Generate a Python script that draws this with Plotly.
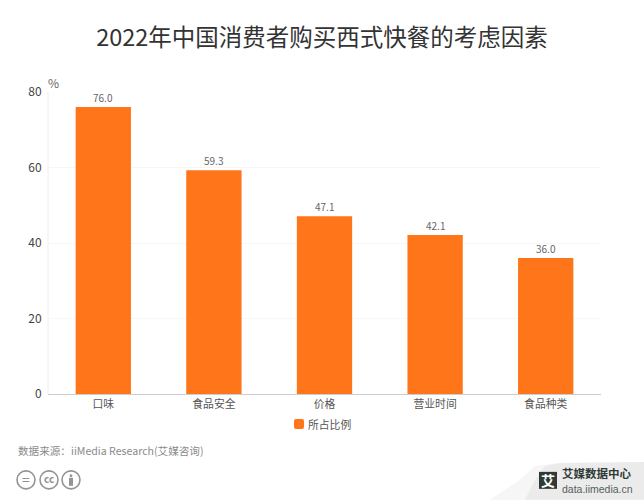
import plotly.graph_objects as go

categories = ["口味", "食品安全", "价格", "营业时间", "食品种类"]
values = [76.0, 59.3, 47.1, 42.1, 36.0]
y_ticks = [0, 20, 40, 60, 80]
series_name = "所占比例"
title = "2022年中国消费者购买西式快餐的考虑因素"
source = "数据来源：iiMedia Research(艾媒咨询)"

W, H = 644, 500
L, R, T, B = 48, 43, 91.5, 106
PW, PH = W - L - R, H - T - B
FONT = "Noto Sans CJK SC, Noto Sans, sans-serif"


def px(x):
    return (x - L) / PW


def py(y):
    return 1 - (y - T) / PH


def label(text, x, y, size, color, anchor="center", family=FONT):
    return dict(text=text, x=px(x), y=py(y), xref="paper", yref="paper", showarrow=False,
                xanchor=anchor, yanchor="middle", font=dict(size=size, color=color, family=family))


fig = go.Figure(
    go.Bar(
        x=categories,
        y=values,
        name=series_name,
        marker=dict(color="#FF751A", line=dict(width=0)),
        showlegend=False,
    )
)

annotations = [
    dict(text=f"{v:.1f}", x=c, y=v, xref="x", yref="y", showarrow=False, xanchor="center", yanchor="bottom",
         font=dict(size=10, color="#666666", family=FONT))
    for c, v in zip(categories, values)
] + [
    label("%", 53, 81.5, 12, "#666666"),
    label(source, 16, 451, 10.6, "#8a8a8a", anchor="left"),
    label("=", 26, 479.5, 14, "#8f8f8f"),
    label("<b>cc</b>", 49, 479, 10, "#8f8f8f"),
    label("<b>艾</b>", 548, 480, 14, "#ffffff"),
    label("<b>艾媒数据中心</b>", 560, 473.5, 11.5, "#2f3a36", anchor="left"),
    label("data.iimedia.cn", 560, 489, 10.5, "#55605c", anchor="left", family="Liberation Sans"),
    label(series_name, 329, 424, 10.8, "#555555"),
]


def circle(cx, cy, r=9):
    return dict(type="circle", xref="paper", yref="paper",
                x0=px(cx - r), x1=px(cx + r), y0=py(cy + r), y1=py(cy - r),
                line=dict(color="#949494", width=1.6), fillcolor="rgba(0,0,0,0)")


def poly(pts, color, layer="below"):
    path = "M " + " L ".join(f"{px(a)},{py(b)}" for a, b in pts) + " Z"
    return dict(type="path", xref="paper", yref="paper", path=path, fillcolor=color, line=dict(width=0), layer=layer)


def rounded_rect(x0, y0, x1, y1, r, color):
    a0, b0, a1, b1 = px(x0), py(y0), px(x1), py(y1)
    rx, ry = r / PW, r / PH
    path = (f"M {a0+rx},{b0} L {a1-rx},{b0} Q {a1},{b0} {a1},{b0-ry} L {a1},{b1+ry} Q {a1},{b1} {a1-rx},{b1} "
            f"L {a0+rx},{b1} Q {a0},{b1} {a0},{b1+ry} L {a0},{b0-ry} Q {a0},{b0} {a0+rx},{b0} Z")
    return dict(type="path", xref="paper", yref="paper", path=path, fillcolor=color, line=dict(width=0))


shapes = [
    circle(26, 480), circle(49, 480), circle(71, 480),
    dict(type="circle", xref="paper", yref="paper", x0=px(69.5), x1=px(72.5), y0=py(477.5), y1=py(474.5),
         fillcolor="#949494", line=dict(width=0)),
    dict(type="rect", xref="paper", yref="paper", x0=px(69), x1=px(73), y0=py(486), y1=py(478),
         fillcolor="#949494", line=dict(width=0)),
    poly([(490, 500), (520, 480), (535, 466), (560, 463), (644, 462), (644, 500)], "#f6f6f6"),
    poly([(525, 500), (535, 480), (545, 466), (560, 463), (644, 462), (644, 500)], "#ebebeb"),
    dict(type="rect", xref="paper", yref="paper", x0=px(539), x1=px(557), y0=py(489), y1=py(472),
         fillcolor="#2f3a36", line=dict(width=0)),
    dict(type="line", xref="paper", yref="paper", x0=0, x1=0, y0=0, y1=1, line=dict(color="#eeeeee", width=1)),
    rounded_rect(294, 419, 304, 429, 2, "#FF751A"),
]

fig.update_layout(
    width=W,
    height=H,
    margin=dict(l=L, r=R, t=T, b=B),
    paper_bgcolor="#ffffff",
    plot_bgcolor="#ffffff",
    font=dict(family=FONT),
    bargap=0.5,
    showlegend=False,
    title=dict(text=title, x=0.5, xanchor="center", y=1 - 37.5 / H, yanchor="middle",
               font=dict(size=23.5, color="#333333", family=FONT)),
    xaxis=dict(showgrid=False, showline=True, linecolor="#cccccc", linewidth=1, ticks="",
               tickfont=dict(size=10.8, color="#555555", family=FONT), fixedrange=True),
    yaxis=dict(range=[0, 80], tickvals=y_ticks, showgrid=True, gridcolor="#f7f7f7", gridwidth=1,
               zeroline=False, ticks="outside", ticklen=3, tickcolor="rgba(0,0,0,0)",
               tickfont=dict(size=12, color="#444444", family=FONT), fixedrange=True),
    annotations=annotations,
    shapes=shapes,
)

fig.write_html(
    "out.html",
    config={"displayModeBar": False},
    post_script="document.body.style.margin='0';document.documentElement.style.overflow='hidden';",
)
